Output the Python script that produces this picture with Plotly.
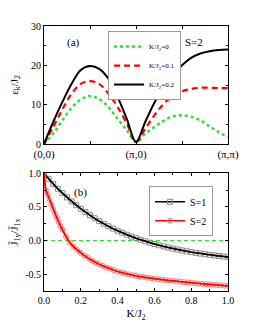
import plotly.graph_objects as go

# ---- panel (a): dispersion along the path (0,0) -> (pi,0) -> (pi,pi)
k_path = [0.0, 0.1, 0.2, 0.3, 0.4, 0.5, 0.6, 0.7, 0.8, 0.9, 1.0,
          1.1, 1.2, 1.3, 1.4, 1.5, 1.6, 1.7, 1.8, 1.9, 2.0]
eps_K0 = [0.0, 2.6, 6.0, 9.2, 11.3, 12.2, 11.4, 9.4, 6.4, 3.5, 0.5,
          2.6, 4.3, 5.9, 7.0, 7.3, 6.9, 6.0, 4.5, 3.0, 1.8]
eps_K01 = [0.0, 4.3, 8.8, 12.8, 15.3, 16.0, 15.3, 12.8, 9.4, 5.2, 0.5,
           3.9, 7.3, 10.2, 12.2, 13.4, 14.0, 14.3, 14.3, 14.2, 14.2]
eps_K02 = [0.0, 5.6, 10.7, 15.3, 18.8, 19.8, 19.1, 16.6, 12.0, 6.4, 0.5,
           5.6, 10.5, 14.5, 17.5, 20.0, 21.9, 23.0, 23.6, 23.9, 24.0]
k_tickvals = [0, 1, 2]
k_ticktext = ["(0,0)", "(π,0)", "(π,π)"]

# ---- panel (b): J1y/J1x versus K/J2
K_S1 = [0.0, 0.025, 0.05, 0.075, 0.1, 0.125, 0.15, 0.175, 0.2, 0.225, 0.25,
        0.275, 0.3, 0.325, 0.35, 0.375, 0.4, 0.425, 0.45, 0.475, 0.5,
        0.525, 0.55, 0.575, 0.6, 0.625, 0.65, 0.675, 0.7, 0.725, 0.75,
        0.775, 0.8, 0.825, 0.85, 0.875, 0.9, 0.925, 0.95, 0.975, 1.0]
ratio_S1 = [1.0, 0.918, 0.842, 0.770, 0.705, 0.642, 0.582, 0.526, 0.473, 0.423, 0.376,
            0.331, 0.289, 0.249, 0.212, 0.178, 0.146, 0.116, 0.087, 0.060, 0.035,
            0.012, -0.011, -0.032, -0.051, -0.070, -0.087, -0.103, -0.119, -0.133, -0.147,
            -0.160, -0.172, -0.183, -0.193, -0.203, -0.213, -0.221, -0.230, -0.237, -0.245]
K_S2 = [0.0, 0.01, 0.02, 0.03, 0.04, 0.05, 0.06, 0.07, 0.08, 0.09, 0.10,
        0.12, 0.14, 0.16, 0.18, 0.20, 0.22, 0.24, 0.26, 0.28, 0.30,
        0.32, 0.34, 0.36, 0.38, 0.40, 0.42, 0.44, 0.46, 0.48, 0.50,
        0.52, 0.54, 0.56, 0.58, 0.60, 0.62, 0.64, 0.66, 0.68, 0.70,
        0.72, 0.74, 0.76, 0.78, 0.80, 0.82, 0.84, 0.86, 0.88, 0.90,
        0.92, 0.94, 0.96, 0.98, 1.00]
ratio_S2 = [1.0, 0.75, 0.68, 0.61, 0.535, 0.465, 0.40, 0.335, 0.275, 0.215, 0.16,
            0.055, -0.03, -0.09, -0.14, -0.185, -0.225, -0.26, -0.295, -0.325, -0.35,
            -0.375, -0.40, -0.42, -0.44, -0.46, -0.475, -0.49, -0.502, -0.514, -0.525,
            -0.534, -0.543, -0.552, -0.56, -0.568, -0.575, -0.581, -0.587, -0.593, -0.599,
            -0.605, -0.611, -0.617, -0.623, -0.629, -0.634, -0.639, -0.644, -0.649, -0.654,
            -0.658, -0.662, -0.666, -0.670, -0.674]
zero_line_x = [0.0, 1.0]
zero_line_y = [0.0, 0.0]

FONT = "Liberation Serif"
GREEN = "#33dd33"

fig = go.Figure()

fig.add_trace(go.Scatter(x=k_path, y=eps_K0, mode="lines", name="K/J<sub>2</sub>=0",
                         line=dict(color=GREEN, width=2.5, dash="dot", shape="spline"),
                         xaxis="x", yaxis="y", legend="legend"))
fig.add_trace(go.Scatter(x=k_path, y=eps_K01, mode="lines", name="K/J<sub>2</sub>=0.1",
                         line=dict(color="red", width=2.2, dash="6px,4px", shape="spline"),
                         xaxis="x", yaxis="y", legend="legend"))
fig.add_trace(go.Scatter(x=k_path, y=eps_K02, mode="lines", name="K/J<sub>2</sub>=0.2",
                         line=dict(color="black", width=2, shape="spline"),
                         xaxis="x", yaxis="y", legend="legend"))

fig.add_trace(go.Scatter(x=zero_line_x, y=zero_line_y, mode="lines", showlegend=False,
                         line=dict(color=GREEN, width=1.2, dash="4px,3px"),
                         xaxis="x2", yaxis="y2"))
fig.add_trace(go.Scatter(x=K_S1, y=ratio_S1, mode="lines+markers", name="S=1",
                         line=dict(color="black", width=1.5),
                         marker=dict(symbol="square-open", size=5, color="#888888",
                                     line=dict(width=1)),
                         xaxis="x2", yaxis="y2", legend="legend2"))
fig.add_trace(go.Scatter(x=K_S1, y=ratio_S1, mode="lines", showlegend=False,
                         line=dict(color="black", width=1.5, shape="spline"),
                         xaxis="x2", yaxis="y2"))
fig.add_trace(go.Scatter(x=K_S2, y=ratio_S2, mode="lines+markers", name="S=2",
                         line=dict(color="red", width=1.5),
                         marker=dict(symbol="circle-open", size=5, color="#ff7777",
                                     line=dict(width=1)),
                         xaxis="x2", yaxis="y2", legend="legend2"))
fig.add_trace(go.Scatter(x=K_S2, y=ratio_S2, mode="lines", showlegend=False,
                         line=dict(color="red", width=1.5, shape="spline"),
                         xaxis="x2", yaxis="y2"))

axis_common = dict(showline=True, linecolor="black", linewidth=1, mirror="ticks",
                   ticks="inside", ticklen=3, tickcolor="black", showgrid=False,
                   zeroline=False, tickfont=dict(family=FONT, size=10, color="black"))

fig.update_layout(
    width=255, height=330,
    margin=dict(l=44, r=27, t=26, b=39),
    paper_bgcolor="white", plot_bgcolor="white",
    font=dict(family=FONT, color="black"),
    xaxis=dict(domain=[0, 1], range=[0, 2], tickvals=k_tickvals, ticktext=k_ticktext,
               anchor="y",
               minor=dict(ticks="inside", ticklen=3, tickvals=[0.5, 1.5], tickcolor="black"),
               **{**axis_common, "tickfont": dict(family=FONT, size=11, color="black")}),
    yaxis=dict(domain=[0.5547, 1], range=[0, 30], dtick=10, anchor="x",
               minor=dict(ticks="inside", ticklen=2, dtick=5, tickcolor="black"),
               title=dict(text="ε<sub>k</sub>/J<sub>2</sub>", font=dict(family=FONT, size=11),
                          standoff=10),
               **axis_common),
    xaxis2=dict(domain=[0, 1], range=[0, 1], dtick=0.2, tickformat=".1f", anchor="y2",
                minor=dict(ticks="inside", ticklen=2, dtick=0.1, tickcolor="black"),
                title=dict(text="K/J<sub>2</sub>", font=dict(family=FONT, size=11), standoff=4),
                **axis_common),
    yaxis2=dict(domain=[0, 0.4442], range=[-0.75, 1.0], tickvals=[-0.5, 0, 0.5, 1.0],
                ticktext=["-0.5", "0.0", "0.5", "1.0"], anchor="x2",
                minor=dict(ticks="inside", ticklen=2, tickvals=[-0.75, -0.25, 0.25, 0.75],
                           tickcolor="black"),
                title=dict(text="J̃<sub>1y</sub>/J̃<sub>1x</sub>", font=dict(family=FONT, size=11),
                           standoff=4),
                **axis_common),
    legend=dict(x=0.348, y=0.981, xanchor="left", yanchor="top",
                bordercolor="#999999", borderwidth=1, bgcolor="white",
                font=dict(family=FONT, size=7), tracegroupgap=0, itemwidth=30),
    legend2=dict(x=0.571, y=0.395, xanchor="left", yanchor="top",
                 bordercolor="#999999", borderwidth=1, bgcolor="white",
                 font=dict(family=FONT, size=10), itemwidth=30),
    annotations=[
        dict(text="(a)", x=73.5, y=42, xref="paper", yref="paper", showarrow=False,
             xanchor="center", yanchor="middle", font=dict(family=FONT, size=11)),
        dict(text="S=2", x=194, y=42, xref="paper", yref="paper", showarrow=False,
             xanchor="center", yanchor="middle", font=dict(family=FONT, size=11)),
        dict(text="(b)", x=80, y=192, xref="paper", yref="paper", showarrow=False,
             xanchor="center", yanchor="middle", font=dict(family=FONT, size=11)),
    ],
)

# convert annotation pixel positions to paper coordinates
px_l, px_r, px_t, px_b = 44, 228, 26, 291
for a in fig.layout.annotations:
    a.x = (a.x - px_l) / (px_r - px_l)
    a.y = 1 - (a.y - px_t) / (px_b - px_t)

fig.write_html("out.html", config={"displayModeBar": False},
               post_script="document.body.style.margin='0px';")
